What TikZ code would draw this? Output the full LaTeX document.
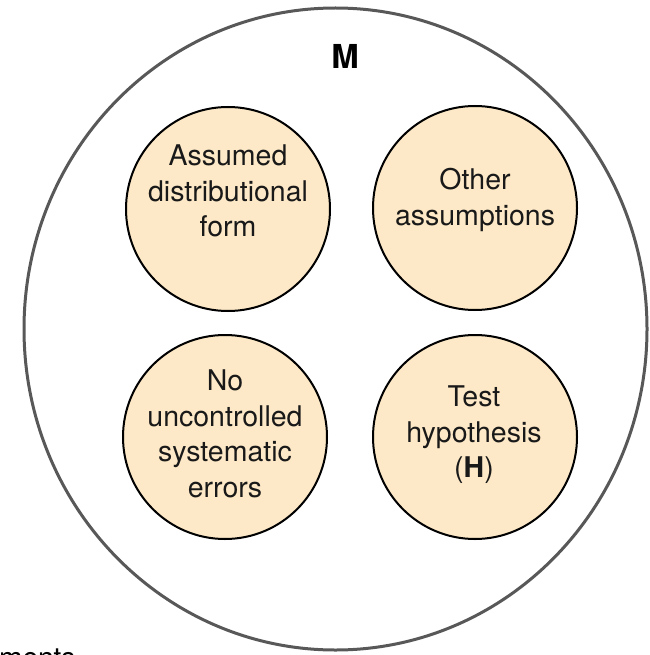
\documentclass[tikz,border=0pt]{standalone}
\usepackage{fontspec}
\setmainfont{TeX Gyre Heros}
\definecolor{peach}{RGB}{253,233,199}
\definecolor{rimgray}{RGB}{88,88,88}
\tikzset{
  bubble/.style={circle, draw=black, line width=2pt, fill=peach, minimum size=204pt, inner sep=0pt},
  bubbletext/.style={align=center, inner sep=0pt, font=\fontsize{28.5}{35.5}\selectfont, text=black!90},
}
\begin{document}
\begin{tikzpicture}[x=1pt, y=-1pt]
\useasboundingbox (0,0) rectangle (649,655);
\clip (0,0) rectangle (649,655);
\draw[rimgray, line width=3pt] (335.5,329) ellipse [x radius=311.5, y radius=321];
\node[font=\fontsize{33}{38}\selectfont\bfseries] (M) at (345,56) {M};
\node[bubble] (tl) at (228,209) {};
\node[bubble] (tr) at (475,208) {};
\node[bubble] (bl) at (225,437) {};
\node[bubble] (br) at (475,437) {};
\node[bubbletext] (tltext) at (228,191) {Assumed\\distributional\\form};
\node[bubbletext] (trtext) at (475,200) {Other\\assumptions};
\node[bubbletext] (bltext) at (225,434) {No\\uncontrolled\\systematic\\errors};
\node[bubbletext] (brtext) at (474,435) {Test\\hypothesis\\(\textbf{H})};
\node[anchor=base west, inner sep=0pt, font=\fontsize{28}{33}\selectfont] (ments) at (-1,667) {ments};
\end{tikzpicture}
\end{document}
